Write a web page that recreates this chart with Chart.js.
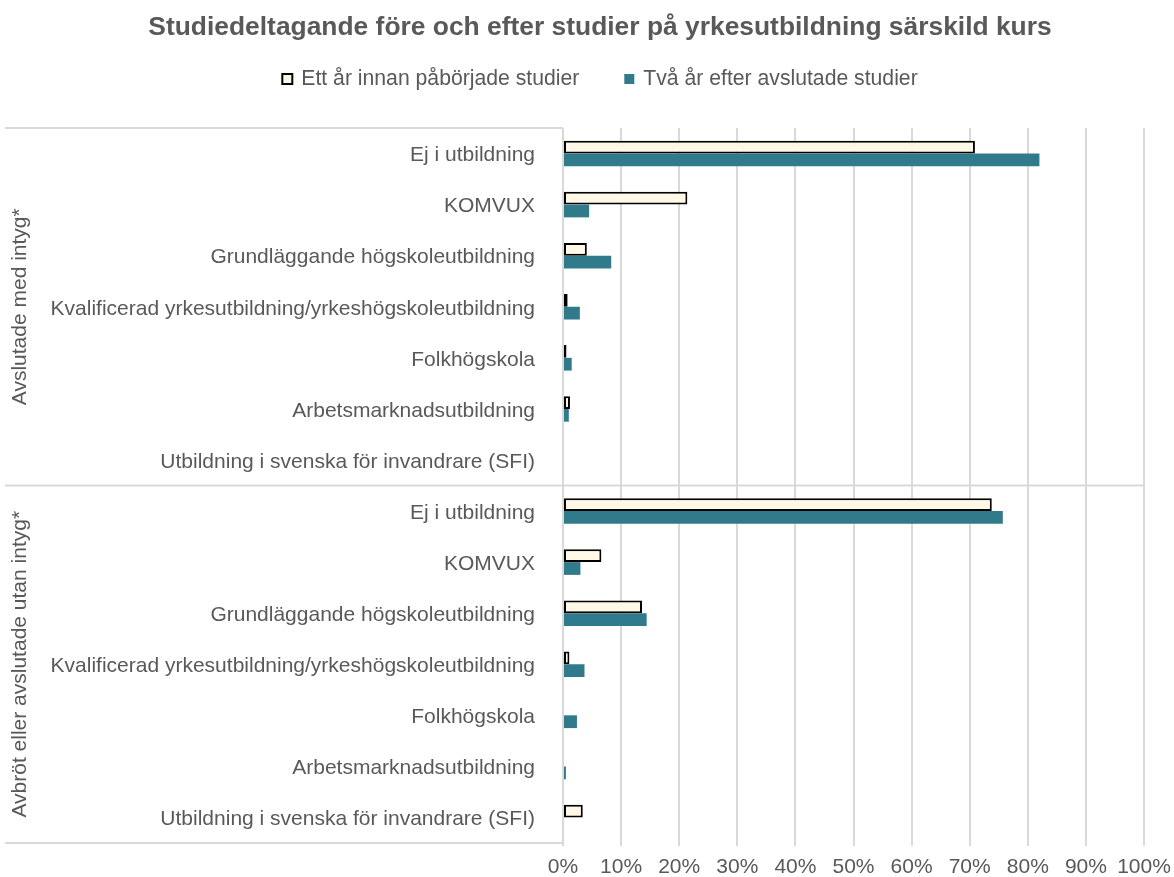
<!DOCTYPE html>
<html>
<head>
<meta charset="utf-8">
<script src="https://cdn.jsdelivr.net/npm/chart.js@4"></script>
<style>
  html, body { margin: 0; padding: 0; background: #fff; }
  #wrap { width: 1174px; height: 877px; }
</style>
</head>
<body>
<div id="wrap"><canvas id="studieChart"></canvas></div>
<script>
const title = 'Studiedeltagande före och efter studier på yrkesutbildning särskild kurs';
const groups = ['Avslutade med intyg*', 'Avbröt eller avslutade utan intyg*'];
const categories = [
  'Ej i utbildning',
  'KOMVUX',
  'Grundläggande högskoleutbildning',
  'Kvalificerad yrkesutbildning/yrkeshögskoleutbildning',
  'Folkhögskola',
  'Arbetsmarknadsutbildning',
  'Utbildning i svenska för invandrare (SFI)'
];
// values in percent, first 7 = group 1, last 7 = group 2
const ettArInnan = [70.9, 21.4, 4.1, 0.8, 0.6, 1.2, 0, 73.8, 6.6, 13.6, 1.1, 0, 0.2, 3.4];
const tvaArEfter = [82.0, 4.5, 8.3, 2.9, 1.5, 1.0, 0, 75.7, 3.0, 14.4, 3.7, 2.4, 0.5, 0];
const seriesNames = ['Ett år innan påbörjade studier', 'Två år efter avslutade studier'];
const xTicks = [0, 10, 20, 30, 40, 50, 60, 70, 80, 90, 100];

const labels = groups.flatMap(() => categories);

const textColor = '#595959';
const lineColor = '#d9d9d9';
const font = 'Liberation Sans, Arial, sans-serif';

// title, group labels, separators and the legend
const decorations = {
  id: 'decorations',
  afterDraw(chart) {
    const ctx = chart.ctx;
    const area = chart.chartArea;
    const y = chart.scales.y;
    const n = categories.length;
    const mid = (y.getPixelForValue(n - 1) + y.getPixelForValue(n)) / 2;

    ctx.save();
    ctx.strokeStyle = lineColor;
    ctx.lineWidth = 2;
    ctx.beginPath();
    ctx.moveTo(5, area.top); ctx.lineTo(area.left, area.top);
    ctx.moveTo(5, mid); ctx.lineTo(area.right, mid);
    ctx.moveTo(5, area.bottom); ctx.lineTo(area.left, area.bottom);
    ctx.stroke();

    ctx.fillStyle = textColor;
    ctx.textAlign = 'center';
    ctx.textBaseline = 'middle';
    ctx.font = 'bold 26.4px ' + font;
    ctx.fillText(title, 600, 28);

    ctx.font = '21px ' + font;
    const bounds = [[area.top, mid], [mid, area.bottom]];
    groups.forEach((g, i) => {
      ctx.save();
      ctx.translate(20, (bounds[i][0] + bounds[i][1]) / 2);
      ctx.rotate(-Math.PI / 2);
      ctx.fillText(g, 0, 0);
      ctx.restore();
    });

    // legend
    ctx.font = '21.2px ' + font;
    const box = 10, gap = 9, between = 45;
    const widths = seriesNames.map(s => ctx.measureText(s).width);
    const total = widths.reduce((a, w) => a + box + gap + w, 0) + between;
    let x = 600 - total / 2;
    const ly = 79;
    ctx.textAlign = 'left';
    chart.data.datasets.forEach((ds, i) => {
      ctx.fillStyle = ds.backgroundColor;
      ctx.fillRect(x, ly - box / 2, box, box);
      if (ds.borderWidth) {
        ctx.strokeStyle = ds.borderColor;
        ctx.lineWidth = 2;
        ctx.strokeRect(x, ly - box / 2, box, box);
      }
      ctx.fillStyle = textColor;
      ctx.fillText(seriesNames[i], x + box + gap, ly);
      x += box + gap + widths[i] + between;
    });
    ctx.restore();
  }
};

new Chart(document.getElementById('studieChart'), {
  type: 'bar',
  data: {
    labels: labels,
    datasets: [
      {
        label: seriesNames[0],
        data: ettArInnan,
        backgroundColor: '#fff8e6',
        borderColor: '#000000',
        borderWidth: 2,
        borderSkipped: false
      },
      {
        label: seriesNames[1],
        data: tvaArEfter,
        backgroundColor: '#317a8c',
        borderWidth: 0
      }
    ]
  },
  options: {
    indexAxis: 'y',
    responsive: true,
    maintainAspectRatio: false,
    animation: false,
    datasets: {
      bar: { categoryPercentage: 0.5, barPercentage: 1.0 }
    },
    layout: { padding: { left: 0, right: 30, top: 128, bottom: 0 } },
    plugins: {
      legend: { display: false },
      tooltip: { enabled: false },
      title: { display: false }
    },
    scales: {
      x: {
        min: 0,
        max: 100,
        afterBuildTicks: (scale) => { scale.ticks = xTicks.map(v => ({ value: v })); },
        afterFit: (scale) => {
          scale.height = 34;
          scale.paddingLeft = 0;
          scale.paddingRight = 0;
        },
        ticks: {
          color: textColor,
          font: { family: font, size: 21 },
          padding: 9,
          maxRotation: 0,
          minRotation: 0,
          autoSkip: false,
          callback: (v) => v + '%'
        },
        grid: { color: lineColor, lineWidth: 2, tickLength: 3 },
        border: { display: false }
      },
      y: {
        afterFit: (scale) => { scale.width = 563; },
        ticks: {
          color: textColor,
          font: { family: font, size: 21 },
          padding: 20,
          labelOffset: 2,
          autoSkip: false
        },
        grid: { display: false },
        border: { display: false }
      }
    }
  },
  plugins: [decorations]
});
</script>
</body>
</html>
